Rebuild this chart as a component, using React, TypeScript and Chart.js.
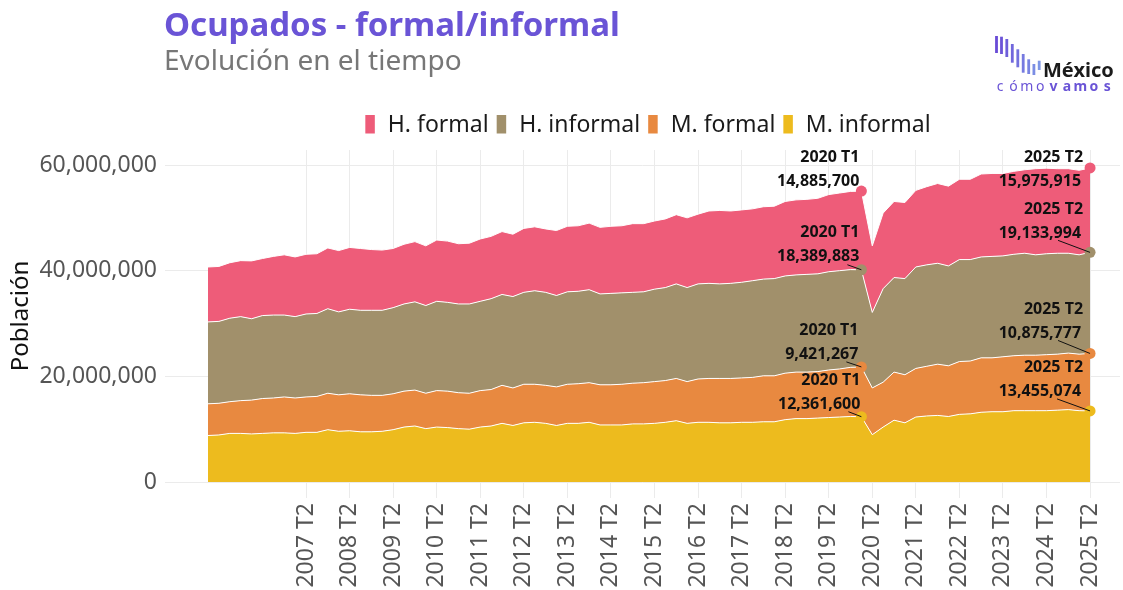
import React, { useEffect, useRef } from 'react';
import { Chart, registerables } from 'chart.js';

Chart.register(...registerables);

const TITLE = 'Ocupados - formal/informal';
const SUBTITLE = 'Evolución en el tiempo';
const Y_TITLE = 'Población';

// Quarter labels 2005 T1 ... 2025 T2
const quarters: string[] = [];
for (let y = 2005; y <= 2025; y++) {
  for (let q = 1; q <= 4; q++) {
    if (y === 2025 && q > 2) break;
    quarters.push(`${y} T${q}`);
  }
}

// Values in millions of people
const mInformal = [
  8.8, 8.9, 9.2, 9.2, 9.1, 9.2, 9.3, 9.3, 9.2, 9.4,
  9.4, 9.9, 9.6, 9.7, 9.5, 9.5, 9.6, 9.9, 10.4, 10.6,
  10.1, 10.4, 10.3, 10.1, 10.0, 10.4, 10.6, 11.1, 10.7, 11.2,
  11.3, 11.1, 10.7, 11.1, 11.1, 11.3, 10.8, 10.8, 10.8, 11.0,
  11.0, 11.1, 11.3, 11.6, 11.1, 11.3, 11.3, 11.2, 11.2, 11.3,
  11.3, 11.4, 11.4, 11.8, 12.0, 12.0, 12.1, 12.2, 12.3, 12.4,
  12.3616, 8.95, 10.4, 11.7, 11.2, 12.3, 12.5, 12.6, 12.4, 12.8,
  12.9, 13.2, 13.3, 13.3, 13.5, 13.5, 13.5, 13.5, 13.6, 13.7,
  13.5, 13.455074,
];
const mFormal = [
  6.0, 6.0, 6.0, 6.2, 6.4, 6.6, 6.6, 6.8, 6.7, 6.7,
  6.8, 6.9, 6.9, 7.0, 7.0, 6.9, 6.8, 6.8, 6.8, 6.8,
  6.7, 6.9, 6.9, 6.8, 6.8, 6.9, 6.9, 7.2, 7.1, 7.3,
  7.2, 7.2, 7.3, 7.4, 7.5, 7.5, 7.6, 7.6, 7.7, 7.7,
  7.8, 7.9, 7.9, 8.0, 7.9, 8.2, 8.3, 8.4, 8.4, 8.4,
  8.5, 8.7, 8.7, 8.8, 8.8, 8.8, 8.8, 9.0, 9.1, 9.3,
  9.421267, 8.85, 8.5, 9.1, 9.1, 9.2, 9.4, 9.7, 9.6, 10.0,
  10.0, 10.3, 10.2, 10.4, 10.4, 10.5, 10.5, 10.6, 10.6, 10.7,
  10.7, 10.875777,
];
const hInformal = [
  15.5, 15.5, 15.8, 15.9, 15.4, 15.7, 15.7, 15.5, 15.4, 15.7,
  15.7, 16.0, 15.7, 16.0, 16.0, 16.1, 16.1, 16.3, 16.5, 16.7,
  16.6, 16.9, 16.8, 16.8, 16.9, 16.9, 17.2, 17.2, 17.3, 17.4,
  17.7, 17.6, 17.3, 17.5, 17.5, 17.6, 17.2, 17.3, 17.3, 17.2,
  17.2, 17.5, 17.6, 17.9, 17.8, 18.0, 18.0, 17.9, 18.0, 18.1,
  18.3, 18.3, 18.4, 18.4, 18.4, 18.5, 18.5, 18.6, 18.6, 18.5,
  18.389883, 14.3, 17.7, 17.9, 18.2, 19.2, 19.2, 19.1, 18.9, 19.3,
  19.2, 19.1, 19.2, 19.1, 19.2, 19.3, 19.0, 19.1, 19.1, 18.9,
  18.8, 19.133994,
];
const hFormal = [
  10.4, 10.4, 10.5, 10.6, 10.95, 10.8, 11.1, 11.4, 11.3, 11.3,
  11.3, 11.5, 11.6, 11.7, 11.7, 11.5, 11.4, 11.2, 11.3, 11.4,
  11.3, 11.6, 11.6, 11.4, 11.5, 11.8, 11.8, 11.9, 11.8, 12.1,
  12.1, 12.0, 12.3, 12.4, 12.4, 12.6, 12.6, 12.7, 12.7, 13.0,
  12.9, 12.9, 13.0, 13.1, 13.2, 13.2, 13.7, 13.9, 13.7, 13.7,
  13.6, 13.7, 13.7, 14.1, 14.2, 14.2, 14.3, 14.6, 14.7, 14.8,
  14.8857, 12.6, 14.3, 14.4, 14.4, 14.5, 14.8, 15.1, 15.1, 15.2,
  15.2, 15.7, 15.7, 15.6, 15.7, 15.8, 16.3, 16.2, 16.0, 16.0,
  16.0, 15.975915,
];

const xTickIndexes = quarters
  .map((l, i) => (l.endsWith('T2') && i >= 9 ? i : -1))
  .filter((i) => i >= 0);
const yTickValues = [0, 20000000, 40000000, 60000000];

const FONT = "'Noto Sans', sans-serif";

const SERIES = [
  { label: 'M. informal', values: mInformal, color: '#EDBB1E' },
  { label: 'M. formal', values: mFormal, color: '#E88940' },
  { label: 'H. informal', values: hInformal, color: '#A1906B' },
  { label: 'H. formal', values: hFormal, color: '#EE5C79' },
];

const HIGHLIGHT = [60, 81];

// annotation layout: text right edge / second line centre relative to point
const ANNOTATIONS = [
  { s: 3, idx: 60, xr: -2, y2: -10, lead: null as null | number[] },
  { s: 2, idx: 60, xr: -2, y2: -13, lead: [-14, -5] },
  { s: 1, idx: 60, xr: -3, y2: -12, lead: [-15, -5] },
  { s: 0, idx: 60, xr: -1, y2: -12, lead: [-13, -5] },
  { s: 3, idx: 81, xr: -9, y2: 13, lead: null },
  { s: 2, idx: 81, xr: -9, y2: -19, lead: [-32, -12] },
  { s: 1, idx: 81, xr: -9, y2: -20, lead: [-32, -13] },
  { s: 0, idx: 81, xr: -9, y2: -19, lead: [-33, -12] },
];

const LOGO_BARS = [
  [996.5, 36, 53], [1001.5, 36.7, 54], [1006.8, 39, 57], [1012.3, 44, 62.7],
  [1017.8, 49.3, 67.3], [1023.2, 54, 72.7], [1028.7, 59.3, 74], [1033.9, 64, 75], [1039.2, 60.7, 70],
];

const overlayPlugin = {
  id: 'overlay',
  afterDraw(chart: any) {
    const ctx: CanvasRenderingContext2D = chart.ctx;
    ctx.save();
    // Title & subtitle
    ctx.textAlign = 'left';
    ctx.textBaseline = 'alphabetic';
    ctx.fillStyle = '#6A54D6';
    ctx.font = `bold 33px ${FONT}`;
    ctx.fillText(TITLE, 164, 36);
    ctx.fillStyle = '#777777';
    ctx.font = `28px ${FONT}`;
    ctx.fillText(SUBTITLE, 164, 70);

    // Legend (reverse of stacking order)
    ctx.font = `23px ${FONT}`;
    const items = [...SERIES].reverse();
    const boxW = 9.5, boxGap = 13, itemGap = 8;
    const widths = items.map((it) => ctx.measureText(it.label).width);
    const total = widths.reduce((a, w) => a + boxW + boxGap + w, 0) + itemGap * (items.length - 1);
    let lx = 648 - total / 2;
    items.forEach((it, k) => {
      ctx.fillStyle = it.color;
      ctx.fillRect(lx, 115, boxW, 18.5);
      ctx.fillStyle = '#1a1a1a';
      ctx.fillText(it.label, lx + boxW + boxGap, 132);
      lx += boxW + boxGap + widths[k] + itemGap;
    });

    // Logo
    LOGO_BARS.forEach(([x, y0, y1], k) => {
      const t = k / (LOGO_BARS.length - 1);
      const r = Math.round(105 + t * (125 - 105));
      const g = Math.round(75 + t * (150 - 75));
      const b = Math.round(214 + t * (230 - 214));
      ctx.fillStyle = `rgb(${r},${g},${b})`;
      ctx.fillRect(x - 1.4, y0, 2.8, y1 - y0);
    });
    ctx.fillStyle = '#1b1b1b';
    ctx.font = `bold 20px ${FONT}`;
    ctx.fillText('México', 1043, 77);
    const sub = 'cómovamos';
    for (let i = 0; i < sub.length; i++) {
      ctx.font = i < 4 ? `14px ${FONT}` : `bold 14px ${FONT}`;
      ctx.fillStyle = '#6A54D6';
      ctx.textAlign = 'center';
      ctx.fillText(sub[i], 1000 + i * 13.4, 91);
    }

    // Highlight points
    SERIES.forEach((s, si) => {
      const meta = chart.getDatasetMeta(si);
      HIGHLIGHT.forEach((idx) => {
        const el = meta.data[idx];
        ctx.beginPath();
        ctx.arc(el.x, el.y, 5.5, 0, Math.PI * 2);
        ctx.fillStyle = s.color;
        ctx.fill();
      });
    });

    // Annotations
    ANNOTATIONS.forEach((a) => {
      const el = chart.getDatasetMeta(a.s).data[a.idx];
      const px = el.x, py = el.y;
      if (a.lead) {
        ctx.beginPath();
        ctx.moveTo(px + a.lead[0], py + a.lead[1]);
        ctx.lineTo(px, py);
        ctx.strokeStyle = '#111';
        ctx.lineWidth = 1;
        ctx.stroke();
      }
      const value = Math.round(SERIES[a.s].values[a.idx] * 1e6).toLocaleString('en-US');
      ctx.font = `bold 16px ${FONT}`;
      ctx.fillStyle = '#111';
      ctx.textAlign = 'right';
      ctx.textBaseline = 'middle';
      const extra = a.idx === 81 ? 2 : 0;
      ctx.fillText(quarters[a.idx], px + a.xr + extra, py + a.y2 - 24);
      ctx.fillText(value, px + a.xr, py + a.y2);
    });
    ctx.restore();
  },
};

export default function App() {
  const canvasRef = useRef<HTMLCanvasElement | null>(null);

  useEffect(() => {
    if (!canvasRef.current) return;
    Chart.defaults.font.family = FONT;
    const chart = new Chart(canvasRef.current, {
      type: 'line',
      data: {
        datasets: SERIES.map((s, si) => ({
          label: s.label,
          data: s.values.map((v, i) => ({ x: i, y: v * 1e6 })),
          backgroundColor: s.color,
          borderColor: '#ffffff',
          borderWidth: 1,
          pointRadius: 0,
          tension: 0,
          fill: si === 0 ? 'origin' : '-1',
        })),
      },
      options: {
        animation: false,
        responsive: true,
        maintainAspectRatio: false,
        events: [],
        layout: { padding: { top: 150, right: 3, left: 0, bottom: 0 } },
        plugins: {
          legend: { display: false },
          tooltip: { enabled: false },
          title: { display: false },
        },
        scales: {
          x: {
            type: 'linear',
            min: -3.95,
            max: 83.75,
            afterBuildTicks: (s: any) => {
              s.ticks = xTickIndexes.map((v) => ({ value: v }));
            },
            afterFit: (s: any) => {
              s.height = 108;
            },
            grid: { color: '#ebebeb', lineWidth: 1, drawTicks: true, tickLength: 16, tickColor: '#ebebeb' },
            border: { display: false },
            ticks: {
              autoSkip: false,
              minRotation: 90,
              maxRotation: 90,
              padding: 5,
              color: '#555555',
              font: { size: 23, family: FONT },
              callback: (v: any) => quarters[Number(v)] ?? '',
            },
          },
          y: {
            stacked: true,
            min: 0,
            max: 62840000,
            afterBuildTicks: (s: any) => {
              s.ticks = yTickValues.map((v) => ({ value: v }));
            },
            afterFit: (s: any) => {
              s.width = 165;
            },
            grid: { color: '#ebebeb', lineWidth: 1, drawTicks: false },
            border: { display: false },
            ticks: {
              padding: 8,
              color: '#555555',
              font: { size: 23, family: FONT },
              callback: (v: any) => Number(v).toLocaleString('en-US'),
            },
            title: {
              display: true,
              text: Y_TITLE,
              color: '#111111',
              font: { size: 24, family: FONT },
              padding: { top: 6.5, bottom: 0 },
            },
          },
        },
      },
      plugins: [overlayPlugin],
    } as any);
    return () => chart.destroy();
  }, []);

  return (
    <div style={{ position: 'fixed', left: 0, top: 0, width: 1123, height: 590, background: '#ffffff' }}>
      <canvas ref={canvasRef} />
    </div>
  );
}
